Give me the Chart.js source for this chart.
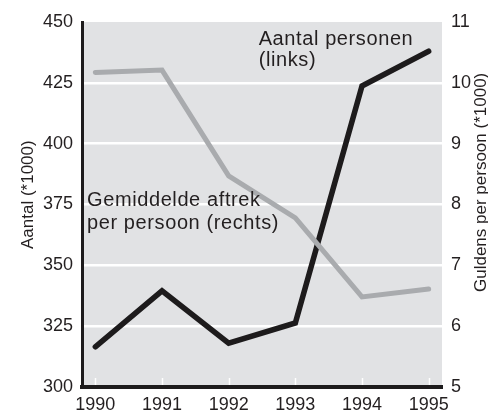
<!DOCTYPE html>
<html><head><meta charset="utf-8">
<script src="https://cdn.jsdelivr.net/npm/chart.js@4/dist/chart.umd.min.js"></script>
<style>html,body{margin:0;padding:0;background:#fff;overflow:hidden}#wrap{width:488px;height:410px;position:relative}</style>
</head><body><div id="wrap"><canvas id="c" width="488" height="410"></canvas></div>
<script>
// Data
const years = [1990, 1991, 1992, 1993, 1994, 1995];
const aantalPersonen = [316.5, 339.5, 318, 326.3, 423.7, 438];   // Aantal (*1000), left axis
const gemiddeldeAftrek = [10.17, 10.21, 8.47, 7.78, 6.48, 6.61]; // Guldens per persoon (*1000), right axis
const leftTicks = [300, 325, 350, 375, 400, 425, 450];
const rightTicks = [5, 6, 7, 8, 9, 10, 11];
const leftTitle = 'Aantal (*1000)';
const rightTitle = 'Guldens per persoon (*1000)';
const labelPersonen = ['Aantal personen', '(links)'];
const labelAftrek = ['Gemiddelde aftrek', 'per persoon (rechts)'];

const FONT = '"Liberation Sans", Arial, Helvetica, sans-serif';
const TXT = '#231f20';

const deco = {
  id: 'deco',
  beforeDraw(chart) {
    const { ctx, chartArea: a } = chart;
    ctx.save();
    ctx.fillStyle = '#e1e2e4';
    ctx.fillRect(a.left, a.top, a.right - a.left, a.bottom - a.top);
    ctx.restore();
  },
  beforeDatasetsDraw(chart) {
    const { ctx, chartArea: a } = chart;
    const xs = chart.scales.x;
    ctx.save();
    ctx.strokeStyle = '#ffffff';
    ctx.lineWidth = 1.5;
    years.forEach(v => {
      const px = Math.round(xs.getPixelForValue(v)) + 0.5;
      ctx.beginPath();
      ctx.moveTo(px, a.bottom - 9);
      ctx.lineTo(px, a.bottom - 2);
      ctx.stroke();
    });
    ctx.restore();
  },
  afterDraw(chart) {
    const { ctx } = chart;
    const xs = chart.scales.x, yl = chart.scales.y;
    ctx.save();
    ctx.fillStyle = TXT;
    ctx.textBaseline = 'alphabetic';
    ctx.textAlign = 'left';
    ctx.font = '20px ' + FONT;
    try { ctx.letterSpacing = '0.6px'; } catch (e) {}
    // series annotations, anchored in data space
    let x0 = xs.getPixelForValue(1992.45), y0 = yl.getPixelForValue(440.6);
    labelPersonen.forEach((t, i) => ctx.fillText(t, x0, y0 + i * 21));
    x0 = xs.getPixelForValue(1989.875); y0 = yl.getPixelForValue(374.4);
    labelAftrek.forEach((t, i) => ctx.fillText(t, x0, y0 + i * 23));
    try { ctx.letterSpacing = '0px'; } catch (e) {}
    // axis titles
    ctx.save();
    ctx.font = '17px ' + FONT;
    ctx.translate(33, 249);
    ctx.rotate(-Math.PI / 2);
    ctx.fillText(leftTitle, 0, 0);
    ctx.restore();
    ctx.save();
    ctx.font = '17px ' + FONT;
    ctx.translate(486, 292);
    ctx.rotate(-Math.PI / 2);
    ctx.fillText(rightTitle, 0, 0);
    ctx.restore();
    ctx.restore();
  }
};

new Chart(document.getElementById('c'), {
  type: 'line',
  data: {
    datasets: [
      {
        label: labelAftrek.join(' '),
        data: years.map((x, i) => ({ x, y: gemiddeldeAftrek[i] })),
        yAxisID: 'y1',
        borderColor: '#a9abae',
        borderWidth: 5,
        borderCapStyle: 'round',
        borderJoinStyle: 'miter',
        pointRadius: 0,
        tension: 0,
        fill: false
      },
      {
        label: labelPersonen.join(' '),
        data: years.map((x, i) => ({ x, y: aantalPersonen[i] })),
        yAxisID: 'y',
        borderColor: '#1d1b1c',
        borderWidth: 5.5,
        borderCapStyle: 'round',
        borderJoinStyle: 'miter',
        pointRadius: 0,
        tension: 0,
        fill: false
      }
    ]
  },
  options: {
    responsive: false,
    animation: false,
    devicePixelRatio: 1,
    layout: { padding: { top: 22, left: 0, right: 0, bottom: 0 } },
    plugins: { legend: { display: false }, tooltip: { enabled: false } },
    scales: {
      x: {
        type: 'linear',
        min: 1989.8,
        max: 1995.2,
        afterBuildTicks: s => { s.ticks = years.map(v => ({ value: v })); },
        afterFit: s => { s.height = 23; },
        ticks: {
          callback: v => String(v),
          font: { family: FONT, size: 18 },
          color: TXT,
          padding: 7,
          maxRotation: 0,
          autoSkip: false
        },
        grid: { display: false, drawTicks: false },
        border: { display: true, color: '#1d1b1c', width: 4 }
      },
      y: {
        position: 'left',
        min: 300,
        max: 450,
        afterBuildTicks: s => { s.ticks = leftTicks.map(v => ({ value: v })); },
        afterFit: s => { s.width = 82; },
        ticks: {
          font: { family: FONT, size: 18 },
          color: TXT,
          padding: 9
        },
        grid: {
          drawTicks: false,
          lineWidth: 2.5,
          color: c => (c.tick && (c.tick.value === 300 || c.tick.value === 450)) ? 'rgba(0,0,0,0)' : '#ffffff'
        },
        border: { display: true, color: '#1d1b1c', width: 3 }
      },
      y1: {
        position: 'right',
        min: 5,
        max: 11,
        afterBuildTicks: s => { s.ticks = rightTicks.map(v => ({ value: v })); },
        afterFit: s => { s.width = 46; },
        ticks: {
          font: { family: FONT, size: 18 },
          color: TXT,
          padding: 9
        },
        grid: { display: false, drawTicks: false },
        border: { display: false }
      }
    }
  },
  plugins: [deco]
});
</script>
</body></html>
